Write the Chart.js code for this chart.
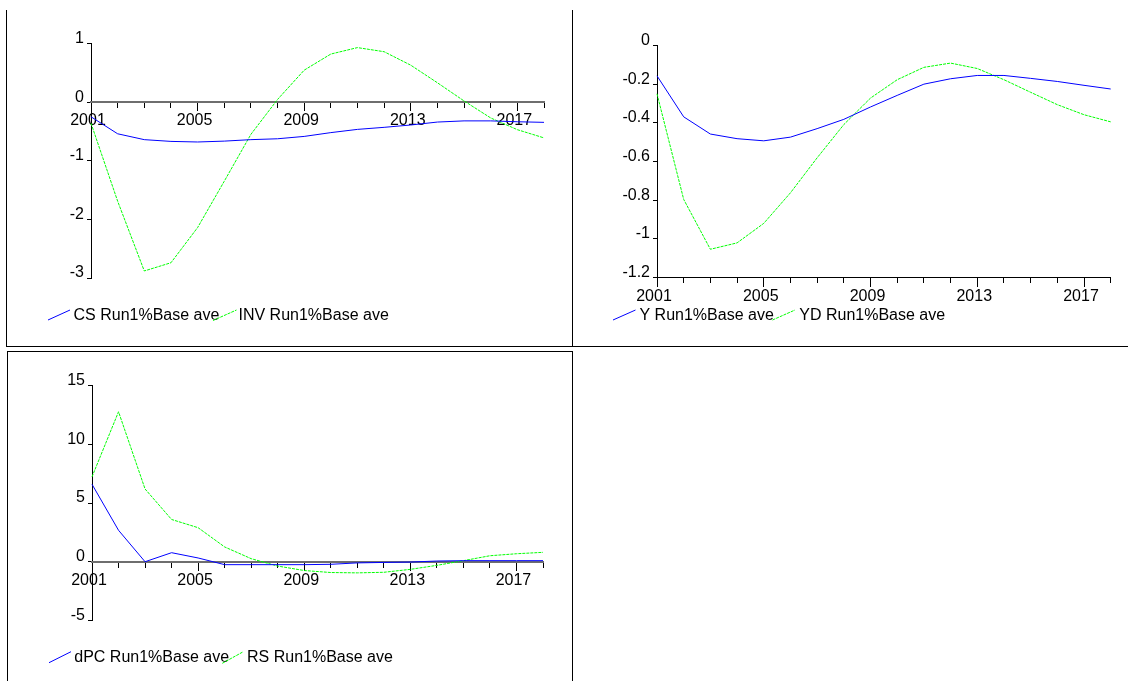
<!DOCTYPE html>
<html>
<head>
<meta charset="utf-8">
<title>Run1% vs Base</title>
<script src="https://cdn.jsdelivr.net/npm/chart.js@4.4.1/dist/chart.umd.min.js"></script>
<style>
  html, body { margin: 0; padding: 0; background: #fff; }
  body { width: 1128px; height: 681px; position: relative; overflow: hidden; }
  .rule { position: absolute; background: #000; }
  .panel { position: absolute; z-index: 2; }
  .panel canvas { display: block; }
</style>
</head>
<body>
<!-- frame rules between the panels -->
<div class="rule" style="left:6px;top:10px;width:1px;height:337px"></div>
<div class="rule" style="left:572px;top:10px;width:1px;height:337px"></div>
<div class="rule" style="left:6px;top:346px;width:1122px;height:1px"></div>
<div class="rule" style="left:7px;top:351px;width:566px;height:1px"></div>
<div class="rule" style="left:7px;top:351px;width:1px;height:330px"></div>
<div class="rule" style="left:572px;top:351px;width:1px;height:330px"></div>

<div class="panel" style="left:0;top:0"><canvas id="p1" width="570" height="340"></canvas></div>
<div class="panel" style="left:570px;top:0"><canvas id="p2" width="558" height="340"></canvas></div>
<div class="panel" style="left:0;top:340px"><canvas id="p3" width="570" height="341"></canvas></div>

<script>
// Years on the horizontal axis and the ones that carry a label
const years = ['2001','2002','2003','2004','2005','2006','2007','2008','2009',
               '2010','2011','2012','2013','2014','2015','2016','2017','2018'];
const yearMarks = ['2001','2005','2009','2013','2017'];

// Deviation of the Run1% scenario from the base run (averages)
const csRun  = [-0.25, -0.54, -0.64, -0.67, -0.68, -0.665, -0.64, -0.625, -0.585,
                -0.52, -0.465, -0.43, -0.39, -0.34, -0.32, -0.32, -0.335, -0.345];
const invRun = [-0.36, -1.69, -2.88, -2.74, -2.14, -1.35, -0.55, 0.045, 0.545,
                0.82, 0.93, 0.86, 0.63, 0.33, 0.02, -0.27, -0.47, -0.61];
const yRun   = [-0.157, -0.369, -0.458, -0.482, -0.493, -0.474, -0.43, -0.382, -0.318,
                -0.258, -0.2, -0.172, -0.155, -0.155, -0.17, -0.186, -0.206, -0.225];
const ydRun  = [-0.25, -0.796, -1.054, -1.021, -0.92, -0.762, -0.581, -0.409, -0.272,
                -0.177, -0.113, -0.091, -0.119, -0.177, -0.242, -0.306, -0.358, -0.395];
const dpcRun = [6.6, 2.68, 0.0, 0.77, 0.32, -0.25, -0.25, -0.25, -0.25,
                -0.22, -0.1, -0.06, -0.03, 0.06, 0.09, 0.09, 0.09, 0.09];
const rsRun  = [7.23, 12.78, 6.2, 3.6, 2.9, 1.26, 0.26, -0.37, -0.75,
                -0.92, -0.95, -0.9, -0.65, -0.31, 0.09, 0.51, 0.68, 0.8];

// Value-axis ticks of each panel
const ticksCsInv = [1, 0, -1, -2, -3];
const ticksYYd   = [0, -0.2, -0.4, -0.6, -0.8, -1, -1.2];
const ticksDpcRs = [15, 10, 5, 0, -5];

const BLUE = '#0000ff';
const GREEN = '#00ff00';
const GREEN_DASH = [3, 1];
const FONT = '"Liberation Sans", Arial, Helvetica, sans-serif';

Chart.defaults.font.family = FONT;
Chart.defaults.font.size = 16;
Chart.defaults.color = '#000';

// Key drawn under each plot: a slanted line sample followed by the series name
const seriesKey = {
  id: 'seriesKey',
  afterDraw(chart, args, opts) {
    const ctx = chart.ctx;
    ctx.save();
    chart.data.datasets.forEach((ds, i) => {
      const k = opts.items[i];
      ctx.beginPath();
      ctx.strokeStyle = ds.borderColor;
      ctx.lineWidth = 1;
      ctx.setLineDash(ds.borderDash || []);
      ctx.moveTo(k.x1, k.y1);
      ctx.lineTo(k.x2, k.y2);
      ctx.stroke();
      ctx.setLineDash([]);
      ctx.fillStyle = '#000';
      ctx.font = '16px ' + FONT;
      ctx.textBaseline = 'alphabetic';
      ctx.textAlign = 'left';
      ctx.fillText(ds.label, k.tx, opts.baseline);
    });
    ctx.restore();
  }
};

function buildPanel(id, spec) {
  const marked = i => yearMarks.includes(years[i]);
  const yMin = Math.min(...spec.yTicks), yMax = Math.max(...spec.yTicks);
  return new Chart(document.getElementById(id), {
    type: 'line',
    data: {
      labels: years,
      datasets: spec.series.map(s => ({
        label: s.label,
        data: s.data,
        borderColor: s.color,
        borderWidth: 1,
        borderDash: s.dash || [],
        pointRadius: 0,
        tension: 0,
        fill: false,
        clip: false
      }))
    },
    options: {
      responsive: false,
      animation: false,
      devicePixelRatio: 1,
      layout: { padding: spec.padding },
      plugins: {
        legend: { display: false },
        tooltip: { enabled: false },
        seriesKey: { items: spec.key, baseline: spec.keyBaseline }
      },
      scales: {
        y: {
          position: 'left',
          min: yMin,
          max: yMax,
          afterBuildTicks: s => { s.ticks = spec.yTicks.map(v => ({ value: v })); },
          afterFit: s => { s.width = spec.axisWidth; },
          border: { display: true, color: '#000', width: 1 },
          grid: { drawOnChartArea: false, drawTicks: true, tickLength: 4, color: '#000' },
          ticks: { padding: 3, labelOffset: -5, color: '#000', font: { size: 16 },
                   callback: v => String(v) }
        },
        x: {
          type: 'category',
          position: { y: spec.crossAt },
          border: { display: true, color: spec.baseColor, width: spec.baseWidth },
          grid: { drawOnChartArea: false, drawTicks: true, tickLength: 5, color: '#000' },
          ticks: { display: false, autoSkip: false }
        },
        xt: {
          type: 'category',
          position: { y: spec.crossAt },
          border: { display: false },
          grid: { drawOnChartArea: false, drawTicks: true, tickLength: 9,
                  tickColor: c => marked(c.index) ? '#000' : 'rgba(0,0,0,0)' },
          ticks: { autoSkip: false, maxRotation: 0, minRotation: 0, padding: 0,
                   labelOffset: -3, color: '#000', font: { size: 16 },
                   callback: (v, i) => marked(i) ? years[i] : '' }
        }
      }
    },
    plugins: [seriesKey]
  });
}

buildPanel('p1', {
  series: [
    { label: 'CS Run1%Base ave', data: csRun, color: BLUE },
    { label: 'INV Run1%Base ave', data: invRun, color: GREEN, dash: GREEN_DASH }
  ],
  yTicks: ticksCsInv,
  crossAt: 0,
  baseColor: '#6e6e6e',
  baseWidth: 2,
  axisWidth: 91,
  padding: { left: 0, top: 43.5, right: 26, bottom: 62 },
  key: [
    { x1: 48, y1: 320, x2: 70, y2: 310, tx: 73.5 },
    { x1: 213, y1: 320.5, x2: 236.5, y2: 310, tx: 238.5 }
  ],
  keyBaseline: 319.5
});

buildPanel('p2', {
  series: [
    { label: 'Y Run1%Base ave', data: yRun, color: BLUE },
    { label: 'YD Run1%Base ave', data: ydRun, color: GREEN, dash: GREEN_DASH }
  ],
  yTicks: ticksYYd,
  crossAt: -1.2,
  baseColor: '#000',
  baseWidth: 1,
  axisWidth: 87,
  padding: { left: 0, top: 45.5, right: 17.3, bottom: 62.5 },
  key: [
    { x1: 43, y1: 320, x2: 65.5, y2: 310, tx: 69.5 },
    { x1: 202.5, y1: 320, x2: 225, y2: 310, tx: 229.3 }
  ],
  keyBaseline: 319.5
});

buildPanel('p3', {
  series: [
    { label: 'dPC Run1%Base ave', data: dpcRun, color: BLUE },
    { label: 'RS Run1%Base ave', data: rsRun, color: GREEN, dash: GREEN_DASH }
  ],
  yTicks: ticksDpcRs,
  crossAt: 0,
  baseColor: '#6e6e6e',
  baseWidth: 2,
  axisWidth: 92,
  padding: { left: 0, top: 45.7, right: 27, bottom: 60.6 },
  key: [
    { x1: 49, y1: 322.7, x2: 71, y2: 311.7, tx: 74.3 },
    { x1: 222.3, y1: 323.3, x2: 243.3, y2: 311.7, tx: 247 }
  ],
  keyBaseline: 321.7
});
</script>
</body>
</html>
